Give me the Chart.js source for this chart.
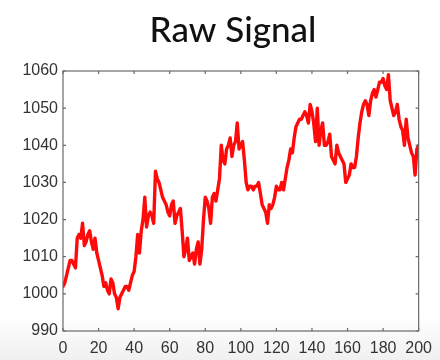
<!DOCTYPE html>
<html><head><meta charset="utf-8">
<script src="https://cdn.jsdelivr.net/npm/chart.js@4"></script>
<style>
html,body{margin:0;padding:0;background:#fff;}
body{width:440px;height:360px;overflow:hidden;background:linear-gradient(180deg,#ffffff 0%,#ffffff 88%,#f0f0f0 100%);}
#wrap{position:relative;width:440px;height:360px;}
</style></head><body>
<div id="wrap"><canvas id="c" width="440" height="360"></canvas></div>
<script>
const titleText = "Raw Signal";
const xTicks = [0,20,40,60,80,100,120,140,160,180,200];
const yTicks = [990,1000,1010,1020,1030,1040,1050,1060];
const signal = [
1002,1003,1005,1007,1009,1009,1008,1007,1015,1016,
1015,1019,1013,1014,1016,1017,1014,1012,1015,1011,
1009,1007,1005,1002,1003,1001,1000,1004,1003,1000,
999,996,999,1000,1001,1002,1002,1001,1003,1005,
1006,1010,1016,1011,1017,1020,1026,1018,1021,1022,
1021,1019,1033,1031,1030,1028,1026,1025,1024,1022,
1021,1024,1025,1019,1021,1022,1023,1017,1010,1012,
1015,1009,1010,1011,1008,1012,1014,1008,1012,1020,
1026,1025,1023,1019,1026,1027,1025,1028,1031,1040,
1036,1035,1039,1040,1042,1037,1040,1041,1046,1039,
1040,1041,1036,1030,1028,1029,1029,1028,1029,1029,
1030,1027,1024,1023,1022,1019,1024,1023,1024,1026,
1029,1028,1028,1030,1028,1031,1034,1036,1039,1038,
1042,1045,1046,1047,1047,1048,1049,1048,1046,1051,
1049,1046,1041,1050,1040,1044,1046,1040,1040,1041,
1043,1037,1036,1035,1040,1038,1037,1036,1035,1030,
1031,1032,1035,1034,1034,1037,1042,1046,1049,1051,
1052,1051,1048,1052,1054,1055,1053,1055,1057,1057,
1058,1056,1055,1059,1052,1050,1048,1049,1051,1047,
1045,1044,1040,1047,1042,1040,1038,1037,1032,1039,
1040
];
const points = signal.map((v,i)=>({x:i,y:v}));

const framePlugin = {
  id:'frame',
  afterDatasetsDraw(chart){
    const {ctx, chartArea:a, scales:{x,y}} = chart;
    ctx.save();
    ctx.strokeStyle = '#6a6a6a';
    ctx.lineWidth = 1.2;
    ctx.strokeRect(a.left, a.top, a.right-a.left, a.bottom-a.top);
    const tl = 3;
    ctx.beginPath();
    xTicks.forEach(t=>{
      const px = x.getPixelForValue(t);
      ctx.moveTo(px,a.bottom); ctx.lineTo(px,a.bottom-tl);
      ctx.moveTo(px,a.top); ctx.lineTo(px,a.top+tl);
    });
    yTicks.forEach(t=>{
      const py = y.getPixelForValue(t);
      ctx.moveTo(a.left,py); ctx.lineTo(a.left+tl,py);
      ctx.moveTo(a.right,py); ctx.lineTo(a.right-tl,py);
    });
    ctx.stroke();
    ctx.restore();
  },
  afterDraw(chart){
    const ctx = chart.ctx;
    ctx.save();
    ctx.fillStyle = '#111';
    ctx.font = '500 35px Lato, "Noto Sans", sans-serif';
    ctx.textAlign = 'center';
    ctx.textBaseline = 'alphabetic';
    ctx.fillText(titleText, 233, 42);
    ctx.restore();
  }
};

new Chart(document.getElementById('c'), {
  type:'line',
  data:{datasets:[{data:points, borderColor:'#ff0a0a', borderWidth:3.4, pointRadius:0, tension:0, fill:false, borderJoinStyle:'round', borderCapStyle:'round'}]},
  options:{
    responsive:false, animation:false, devicePixelRatio:1,
    layout:{padding:{top:71,right:17,left:0,bottom:0}},
    plugins:{legend:{display:false}, title:{display:false}, tooltip:{enabled:false}},
    scales:{
      x:{type:'linear', min:0, max:200,
         afterBuildTicks(s){ s.ticks = xTicks.map(v=>({value:v})); },
         afterFit(s){ s.height = 29; },
         grid:{display:false, drawTicks:false}, border:{display:false},
         ticks:{color:'#333', font:{family:'"Liberation Sans", Arial, sans-serif', size:16}, padding:8, maxRotation:0, autoSkip:false, callback:v=>String(v)}},
      y:{type:'linear', min:990, max:1060,
         afterBuildTicks(s){ s.ticks = yTicks.map(v=>({value:v})); },
         afterFit(s){ s.width = 63; },
         grid:{display:false, drawTicks:false}, border:{display:false},
         ticks:{color:'#333', font:{family:'"Liberation Sans", Arial, sans-serif', size:16}, padding:5, autoSkip:false, callback:v=>String(v)}}
    }
  },
  plugins:[framePlugin]
});
</script>
</body></html>
